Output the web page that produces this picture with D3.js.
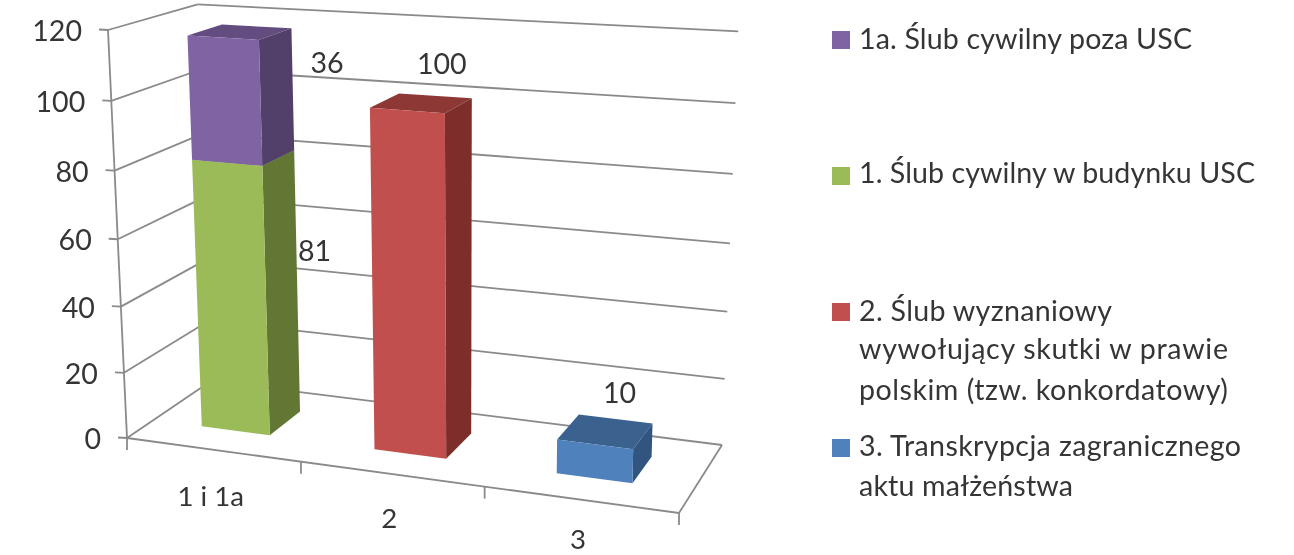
<!DOCTYPE html>
<html><head><meta charset="utf-8">
<script src="https://cdnjs.cloudflare.com/ajax/libs/d3/7.8.5/d3.min.js"></script>
<style>
html,body{margin:0;padding:0;background:#fff;overflow:hidden}
text{font-family:Lato,"Open Sans",sans-serif;fill:#353535}
</style></head><body><svg id="c" width="1294" height="555"></svg>
<script>
// ---- data ----
const categories = ["1 i 1a", "2", "3"];
const values1  = [81, 0, 0];
const values1a = [36, 0, 0];
const values2  = [0, 100, 0];
const values3  = [0, 0, 10];
const yTicks = [0, 20, 40, 60, 80, 100, 120];
const legendLines = [
  ["1a. Ślub cywilny poza USC"],
  ["1. Ślub cywilny w budynku USC"],
  ["2. Ślub wyznaniowy", "wywołujący skutki w prawie", "polskim (tzw. konkordatowy)"],
  ["3. Transkrypcja zagranicznego", "aktu małżeństwa"]
];

// ---- layout / style ----
const palette = {
  green: {front:"#9bbb59", side:"#647735", top:"#748b42"},
  purple:{front:"#8064a2", side:"#533f6b", top:"#634e80"},
  red:   {front:"#c0504d", side:"#7d2f2c", top:"#8e3936"},
  blue:  {front:"#4f81bd", side:"#30547f", top:"#3b628f"}
};
const legendColors = [palette.purple.front, palette.green.front, palette.red.front, palette.blue.front];
const legendSwatchY = [31, 167, 303, 439];
const legendBaselines = [[49],[183],[321,359,400],[456,496]];
const legendWidths = [[333],[396],[253,369,369],[382,214]];
const FS = 28.6;

// ---- projection: unit box (u along categories, d into depth, t height) -> screen ----
const FL=[127,438], FR=[679,513], BR=[722,445], BL=[211,381], FLtop=[108,30];
const sx=FL[0]-FR[0]+BR[0]-BL[0], sy=FL[1]-FR[1]+BR[1]-BL[1];
const dx1=FR[0]-BR[0], dx2=BL[0]-BR[0], dy1=FR[1]-BR[1], dy2=BL[1]-BR[1];
const den=dx1*dy2-dx2*dy1;
const g=(sx*dy2-dx2*sy)/den, h=(dx1*sy-sx*dy1)/den;
const a=FR[0]-FL[0]+g*FR[0], b=BL[0]-FL[0]+h*BL[0], c=FL[0];
const d_=FR[1]-FL[1]+g*FR[1], e=BL[1]-FL[1]+h*BL[1], f=FL[1];
const ii=-0.05;
const p=FLtop[0]*(1+ii)-c, q=FLtop[1]*(1+ii)-f;
const yScale=d3.scaleLinear().domain([0,120]).range([0,1]);
function proj(u,d,v){
  const t=yScale(v), w=g*u+h*d+ii*t+1;
  return [(a*u+b*d+c+p*t)/w + 4*t*u*d,
          (d_*u+e*d+f+q*t)/w - 9*t*u*(0.4+0.6*d)];
}
const xBand=d3.scaleBand().domain(categories).range([-0.004,0.996]).paddingInner(0.6).paddingOuter(0.3);
const dBand=[0.3,0.7];

const svg=d3.select("#c");
const defs=svg.append("defs");
defs.append("filter").attr("id","soft").attr("x","-5%").attr("y","-5%").attr("width","110%").attr("height","110%")
  .append("feGaussianBlur").attr("stdDeviation",0.55);
const root=svg.append("g").attr("filter","url(#soft)");

const line=d3.line();
const grid=root.append("g").attr("fill","none").attr("stroke","#8a8a8a").attr("stroke-width",1.8);
function seg(A,B){grid.append("path").attr("d",line([A,B]));}
yTicks.forEach(v=>{
  seg(proj(0,0,v),proj(0,1,v));
  seg(proj(0,1,v),proj(1,1,v));
  const P=proj(0,0,v);
  seg([P[0]-9,P[1]-0.5],P);
});
seg(proj(0,0,0),proj(0,0,120));
seg(proj(0,0,0),proj(1,0,0));
seg(proj(1,0,0),proj(1,1,0));
[0,1/3,2/3,1].forEach(u=>{const P=proj(u,0,0);seg(P,[P[0],P[1]+12]);});

// axis labels
root.append("g").selectAll("text").data(yTicks).join("text")
  .attr("x",v=>proj(0,0,v)[0]-26).attr("y",v=>proj(0,0,v)[1]+11)
  .attr("text-anchor","end").attr("font-size",FS).text(v=>v);
const catLabelDrop=[57,54,50];
root.append("g").selectAll("text").data(categories).join("text")
  .attr("x",(k,i)=>proj(xBand(k)+xBand.bandwidth()/2,0,0)[0])
  .attr("y",(k,i)=>proj(xBand(k)+xBand.bandwidth()/2,0,0)[1]+catLabelDrop[i])
  .attr("text-anchor","middle").attr("font-size",FS-1).text(k=>k);

// bars
function box(cat,v0,v1,col){
  const u0=xBand(cat), u1=u0+xBand.bandwidth(), d0=dBand[0], d1=dBand[1];
  const G=root.append("g");
  const poly=(pts,fill)=>G.append("path").attr("d",line(pts)+"Z").attr("fill",fill);
  poly([proj(u0,d0,v1),proj(u1,d0,v1),proj(u1,d1,v1),proj(u0,d1,v1)],col.top);
  poly([proj(u1,d0,v0),proj(u1,d1,v0),proj(u1,d1,v1),proj(u1,d0,v1)],col.side);
  poly([proj(u0,d0,v0),proj(u1,d0,v0),proj(u1,d0,v1),proj(u0,d0,v1)],col.front);
}
categories.forEach((k,i)=>{
  const s1=values1[i], s1a=values1a[i];
  if(s1){box(k,0,s1,palette.green);}
  if(s1a){box(k,s1,s1+s1a,palette.purple);}
  if(values2[i]) box(k,0,values2[i],palette.red);
  if(values3[i]) box(k,0,values3[i],palette.blue);
});

// data labels: anchored to the bar's upper-right back corner plus an offset
const ends=(k,v)=>proj(xBand(k)+xBand.bandwidth(),dBand[1],v);
const labels=[
  {k:categories[0],val:values1[0],at:values1[0]*0.6,dx:18,dy:4},
  {k:categories[0],val:values1a[0],at:values1[0]+values1a[0]*0.8,dx:35,dy:20},
  {k:categories[1],val:values2[1],at:values2[1],dx:-30,dy:-24},
  {k:categories[2],val:values3[2],at:values3[2],dx:-33,dy:-20}
];
root.append("g").selectAll("text").data(labels).join("text")
  .attr("x",o=>ends(o.k,o.at)[0]+o.dx).attr("y",o=>ends(o.k,o.at)[1]+o.dy)
  .attr("text-anchor","middle").attr("font-size",FS).text(o=>o.val);

// legend
const lg=root.append("g");
legendLines.forEach((ls,i)=>{
  lg.append("rect").attr("x",832).attr("y",legendSwatchY[i]).attr("width",18).attr("height",18).attr("fill",legendColors[i]);
  ls.forEach((t,j)=>lg.append("text").attr("x",859).attr("y",legendBaselines[i][j]).attr("font-size",FS)
    .attr("textLength",legendWidths[i][j]).attr("lengthAdjust","spacing").text(t));
});
</script></body></html>
